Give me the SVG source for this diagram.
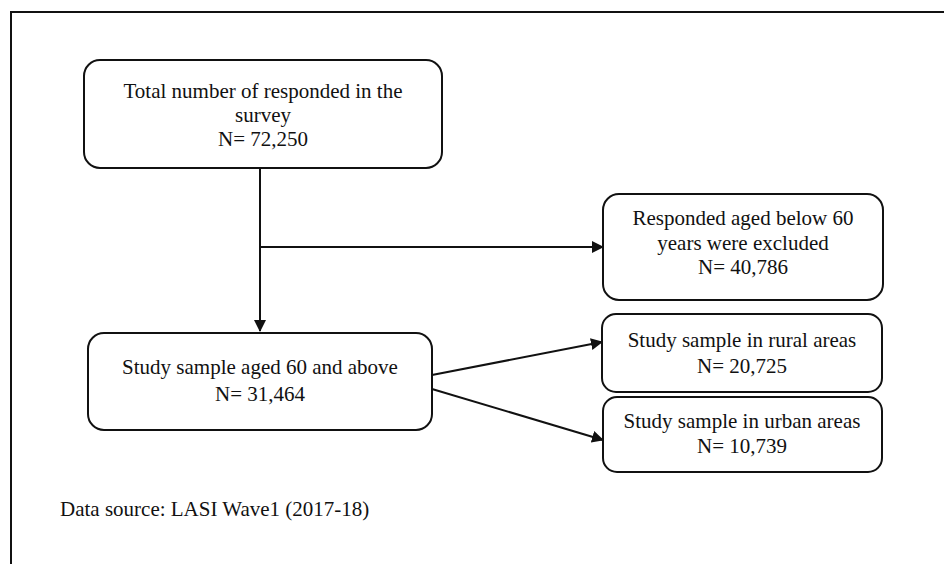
<svg xmlns="http://www.w3.org/2000/svg" width="944" height="564" viewBox="0 0 944 564">
<defs>
<style>
.box{fill:#fff;stroke:#111;stroke-width:2}
.t{font-family:"Liberation Serif","Times New Roman",serif;font-size:21px;fill:#111;text-anchor:middle}
.c{stroke:#111;stroke-width:2;fill:none}
</style>
<marker id="ah" markerWidth="12" markerHeight="12" refX="11" refY="6" orient="auto" markerUnits="userSpaceOnUse" viewBox="0 0 12 12">
<path d="M0,0 L12,6 L0,12 z" fill="#111"/>
</marker>
</defs>
<rect x="0" y="0" width="944" height="564" fill="#fff"/>
<path d="M11,564 L11,12 L944,12" fill="none" stroke="#111" stroke-width="2"/>
<g id="connectors">
<path class="c" d="M260,168 L260,331" marker-end="url(#ah)"/>
<path class="c" d="M260,247 L603,247" marker-end="url(#ah)"/>
<path class="c" d="M432,375 L602,342" marker-end="url(#ah)"/>
<path class="c" d="M432,389 L603,440" marker-end="url(#ah)"/>
</g>
<g id="n1">
<rect class="box" x="84" y="60" width="358" height="108" rx="16"/>
<text class="t" x="263" y="98">Total number of responded in the</text>
<text class="t" x="263" y="122">survey</text>
<text class="t" x="263" y="146">N= 72,250</text>
</g>
<g id="n2">
<rect class="box" x="603" y="194" width="280" height="106" rx="16"/>
<text class="t" x="743" y="225">Responded aged below 60</text>
<text class="t" x="743" y="250">years were excluded</text>
<text class="t" x="743" y="274">N= 40,786</text>
</g>
<g id="n3">
<rect class="box" x="88" y="333" width="344" height="97" rx="16"/>
<text class="t" x="260" y="374">Study sample aged 60 and above</text>
<text class="t" x="260" y="401">N= 31,464</text>
</g>
<g id="n4">
<rect class="box" x="602" y="314" width="280" height="78" rx="14"/>
<text class="t" x="742" y="347">Study sample in rural areas</text>
<text class="t" x="742" y="373">N= 20,725</text>
</g>
<g id="n5">
<rect class="box" x="603" y="397" width="279" height="75" rx="14"/>
<text class="t" x="742" y="428">Study sample in urban areas</text>
<text class="t" x="742" y="453">N= 10,739</text>
</g>
<text x="60" y="516" style="font-family:'Liberation Serif','Times New Roman',serif;font-size:21px;fill:#111">Data source: LASI Wave1 (2017-18)</text>
</svg>
